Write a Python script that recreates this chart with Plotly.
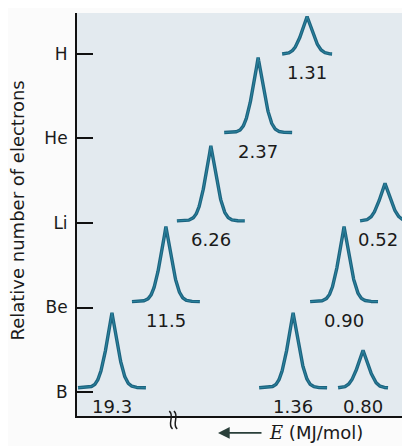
import numpy as np
import plotly.graph_objects as go

# ---- data ----
elements = ["B", "Be", "Li", "He", "H"]          # y-axis categories (bottom -> top)
peak_element = ["H", "He", "Li", "Li", "Be", "Be", "B", "B", "B"]
peak_energy_label = ["1.31", "2.37", "6.26", "0.52", "11.5", "0.90", "19.3", "1.36", "0.80"]
peak_electrons = [1, 2, 2, 1, 2, 2, 2, 2, 1]     # relative number of electrons
# position along the (broken, non-linear) energy axis, in display units 0-100
peak_axis_pos = [69.1, 54.4, 40.2, 92.5, 26.7, 80.2, 10.5, 64.9, 85.9]

# ---- style ----
FONT = "DejaVu Sans, Verdana, sans-serif"
LINE_DARK = "#1d6480"
LINE_LIGHT = "#3aa7bf"
PLOT_BG = "#e3eaef"
XMAX = 100.0
YMIN, YMAX = -0.284, 4.485
BASE_OFF = {"H": 0.0, "He": 0.07, "Li": 0.025, "Be": 0.07, "B": 0.05}
H_PER_E = 0.444
TRI_HALF = 3.6
SMOOTH = 0.95


def peak_shape(center, height, half_base):
    d = np.linspace(-half_base, half_base, 301)
    g = SMOOTH * np.log1p(np.exp((TRI_HALF - np.abs(d)) / SMOOTH))
    g0 = SMOOTH * np.log1p(np.exp(TRI_HALF / SMOOTH))
    g = (g - g.min()) / (g0 - g.min())
    return center + d, height * g


level = {e: i for i, e in enumerate(elements)}

fig = go.Figure()
for el, lab, ne, pos in zip(peak_element, peak_energy_label, peak_electrons, peak_axis_pos):
    half_base = 10.2 if ne == 2 else 7.5
    xs, ys = peak_shape(pos, ne * H_PER_E, half_base)
    yb = level[el] + BASE_OFF[el]
    fig.add_trace(go.Scatter(x=xs, y=ys + yb, mode="lines",
                             line=dict(color=LINE_DARK, width=3.4),
                             hoverinfo="skip", showlegend=False))
    fig.add_trace(go.Scatter(x=xs, y=ys + yb, mode="lines",
                             line=dict(color=LINE_LIGHT, width=1),
                             opacity=0.5,
                             hoverinfo="skip", showlegend=False))
    edge_shift = -7 if pos > 90 else 0   # keep labels near the right edge inside
    fig.add_annotation(x=pos, y=yb, yshift=-19, xshift=edge_shift, text=lab,
                       showarrow=False, xanchor="center", yanchor="middle",
                       font=dict(family=FONT, size=18, color="#1a1a1a"))

# axis break marks on the x axis
for bx in (28.2, 29.6):
    fig.add_shape(type="path", xref="x", yref="paper",
                  path=(f"M {bx-0.5},0.012 C {bx+1.3},0.0 {bx-1.3},-0.02 "
                        f"{bx+0.5},-0.032"),
                  line=dict(color="#1a1a1a", width=1.5))

# energy arrow + label
fig.add_annotation(xref="paper", yref="paper", x=0.4234, y=-0.042,
                   ax=45, ay=0, text="", showarrow=True, arrowhead=2,
                   arrowsize=1.3, arrowwidth=1.8, arrowcolor="#2a3f3a")
fig.add_annotation(xref="paper", yref="paper", x=0.572, y=-0.042,
                   xanchor="left", yanchor="middle", showarrow=False,
                   text="<span style='font-family:DejaVu Serif'><i>E</i></span> (MJ/mol)",
                   font=dict(family=FONT, size=18, color="#1a1a1a"))

# y-axis title
fig.add_annotation(xref="paper", yref="paper", x=-0.18, y=0.51,
                   text="Relative number of electrons", textangle=-90,
                   showarrow=False, xanchor="center", yanchor="middle",
                   font=dict(family=FONT, size=18, color="#1a1a1a"))

fig.update_layout(
    width=402, height=438,
    margin=dict(l=69, r=0, t=5, b=30),
    paper_bgcolor="#fbfbfb",
    plot_bgcolor=PLOT_BG,
    showlegend=False,
    xaxis=dict(range=[0, XMAX], showgrid=False, zeroline=False,
               showticklabels=False, ticks="",
               showline=True, linecolor="#111", linewidth=2, fixedrange=True),
    yaxis=dict(range=[YMIN, YMAX], showgrid=False, zeroline=False,
               tickmode="array", tickvals=list(range(len(elements))), ticktext=elements,
               ticks="inside", ticklen=16, tickwidth=2, tickcolor="#111",
               ticklabelstandoff=4,
               tickfont=dict(family=FONT, size=17, color="#1a1a1a"),
               showline=True, linecolor="#111", linewidth=2, fixedrange=True),
)

fig.write_html("out.html")
